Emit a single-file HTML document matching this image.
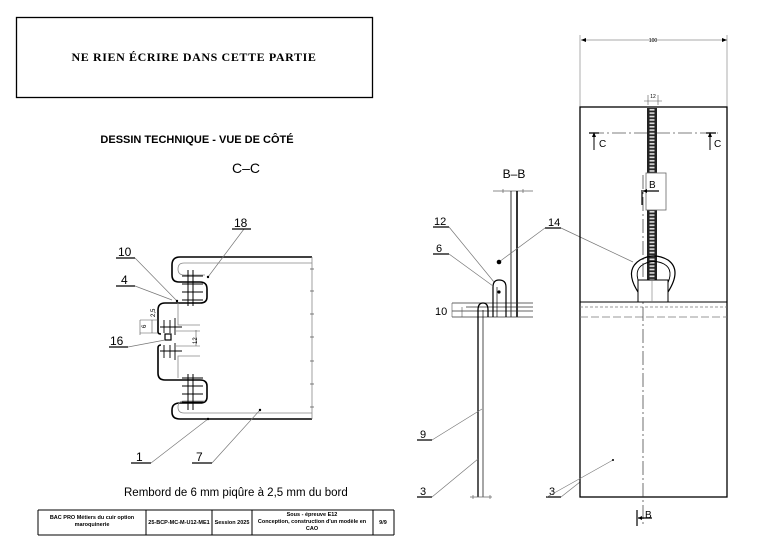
<!DOCTYPE html>
<html><head><meta charset="utf-8"><style>
html,body{margin:0;padding:0;background:#fff;}
svg{display:block;}
text{font-family:"Liberation Sans",sans-serif;fill:#000;}
</style></head><body>
<svg width="778" height="552" viewBox="0 0 778 552" xmlns="http://www.w3.org/2000/svg">
<defs>
<pattern id="zip" x="647" y="108" width="10" height="3.4" patternUnits="userSpaceOnUse">
<rect x="0" y="0" width="10" height="3.4" fill="#222"/>
<rect x="2.5" y="0.9" width="5" height="1.7" fill="#ddd"/>
</pattern>
</defs>
<rect x="16.5" y="17.5" width="356" height="80" fill="none" stroke="#000" stroke-width="1.3"/>
<text x="194" y="61" text-anchor="middle" style="font-family:'Liberation Serif',serif;font-weight:bold;font-size:12px;letter-spacing:0.6px">NE RIEN ÉCRIRE DANS CETTE PARTIE</text>
<text x="197" y="143" text-anchor="middle" font-weight="bold" font-size="11px">DESSIN TECHNIQUE - VUE DE CÔTÉ</text>
<text x="246" y="173" text-anchor="middle" font-size="14px">C–C</text>

<!-- left drawing -->
<g fill="none" stroke="#000">
<path d="M312,257 H180 Q172,257 172,265 V275 Q172,282 179,282 H200 Q207,282 207,289 V297 Q207,303 200,303 H165 Q158,303 158,310 V332 Q158,334 161,334" stroke-width="1.6"/>
<path d="M161,345 Q158,345 158,348 V373 Q158,380 165,380 H200 Q207,380 207,386 V397 Q207,403 200,403 H180 Q172,403 172,410 V412 Q172,419 180,419 H312" stroke-width="1.6"/>
<path d="M312,263 H184 Q178,263 178,269 Q178,275 184,275 H205" stroke="#888" stroke-width="0.8"/>
<path d="M312,413 H184 Q178,413 178,407 Q178,401 184,401 H205" stroke="#888" stroke-width="0.8"/>
<path d="M178,303 V325 H200 M178,378 V356 H200" stroke="#888" stroke-width="0.8"/>
<line x1="312" y1="257" x2="312" y2="419" stroke="#888" stroke-width="0.8"/>
<path d="M310,269h4M310,291h4M310,314h4M310,337h4M310,361h4M310,384h4M310,407h4" stroke="#555" stroke-width="0.8"/>
<path d="M188,270V306M193,270V306M182,276H203M182,284H203M182,292H203M182,300H203" stroke-width="1"/>
<path d="M188,374V410M193,374V410M182,378H203M182,386H203M182,394H203M182,402H203" stroke-width="1"/>
<path d="M164,320V333M170,320V333M164,345V358M170,345V358M160,327H182M160,351H182M175,318V335M175,343V360" stroke-width="0.9"/>
<rect x="165" y="334" width="6" height="6" stroke-width="1.2"/>
<path d="M176,331H200M176,346H200M196,330V346M140,320V335M152,320V333M140,320H158M140,333H158" stroke="#555" stroke-width="0.6"/>
<path d="M232,229H251M244,229L208,277M116,258H135M135,258L177,301M116,286H135M135,286L172,300M109,347H128M128,347L165,340M131,463H151M151,463L208,419M192,463H212M212,463L260,410" stroke="#777" stroke-width="0.7"/>
<path d="M116,258H135M116,286H135M109,347H128M131,463H151M192,463H212M232,229H251" stroke="#000" stroke-width="1.2"/>
</g>
<circle cx="208" cy="277" r="1.2"/><circle cx="177" cy="301" r="1.2"/><circle cx="208" cy="419" r="1.2"/><circle cx="260" cy="410" r="1.2"/>
<text x="234" y="227" font-size="12px">18</text>
<text x="118" y="256" font-size="12px">10</text>
<text x="121" y="284" font-size="12px">4</text>
<text x="110" y="345" font-size="12px">16</text>
<text x="136" y="461" font-size="12px">1</text>
<text x="196" y="461" font-size="12px">7</text>
<text x="146" y="328" font-size="6px" fill="#b65" transform="rotate(-90 146 328)">6</text>
<text x="155" y="317" font-size="6px" fill="#358" transform="rotate(-90 155 317)">2,5</text>
<text x="197" y="344" font-size="6px" transform="rotate(-90 197 344)">12</text>
<text x="124" y="496" font-size="11.5px">Rembord de 6 mm piqûre à 2,5 mm du bord</text>

<!-- title block -->
<g stroke="#000" stroke-width="1" fill="none">
<path d="M38,510H394M38,535H394M38,510V535M146,510V535M212,510V535M252,510V535M373,510V535M394,510V535"/>
</g>
<g font-size="5.5px" font-weight="bold" text-anchor="middle">
<text x="92" y="519">BAC PRO Métiers du cuir option</text>
<text x="92" y="526">maroquinerie</text>
<text x="179" y="524">25-BCP-MC-M-U12-ME1</text>
<text x="232" y="524">Session 2025</text>
<text x="312" y="516">Sous - épreuve E12</text>
<text x="312" y="523">Conception, construction d'un modèle en</text>
<text x="312" y="530">CAO</text>
<text x="383" y="524">9/9</text>
</g>

<!-- B-B view -->
<text x="514" y="178" text-anchor="middle" font-size="12px">B–B</text>
<g fill="none" stroke="#000">
<path d="M493,191H533M503,189V193M523,189V193" stroke="#666" stroke-width="0.7"/>
<line x1="511" y1="191" x2="511" y2="317" stroke-width="0.8"/>
<line x1="517" y1="191" x2="517" y2="317" stroke-width="1.6"/>
<path d="M452,303H533M466,307H533M452,311H533M452,317H533" stroke="#333" stroke-width="0.7"/>
<path d="M493,317V287 Q493,280 499,280 Q506,280 506,287 V317" stroke-width="1.2"/>
<line x1="497" y1="287" x2="497" y2="317" stroke-width="0.7"/>
<path d="M478,497V310 Q478,303 483,303 Q488,303 488,310 V317" stroke-width="1.3"/>
<line x1="483" y1="310" x2="483" y2="497" stroke-width="0.7"/>
<path d="M470,497H492M473,495V499M490,495V499" stroke="#666" stroke-width="0.7"/>
<path d="M452,303V317M462,307V317" stroke="#555" stroke-width="0.6"/>
<path d="M433,227H449M449,227L494,282M433,254H449M449,254L493,286M417,440H432M432,440L482,409M417,497H432M432,497L478,459M546,497H561M561,497L580,482M545,228H561" stroke="#777" stroke-width="0.7"/>
<path d="M433,227H449M433,254H449M417,440H432M417,497H432M546,497H561M545,228H561" stroke="#000" stroke-width="1.2"/>
<path d="M561,228L633,262M499,262L545,228" stroke="#777" stroke-width="0.7"/>
</g>
<circle cx="499" cy="262" r="2.3"/><circle cx="499" cy="292" r="1.6"/>
<text x="434" y="225" font-size="11px">12</text>
<text x="436" y="252" font-size="11px">6</text>
<text x="435" y="315" font-size="11px">10</text>
<text x="420" y="438" font-size="11px">9</text>
<text x="420" y="495" font-size="11px">3</text>
<text x="549" y="495" font-size="11px">3</text>
<text x="548" y="226" font-size="11px">14</text>

<!-- right view -->
<g fill="none" stroke="#000">
<path d="M580,35V107M727,35V107" stroke="#777" stroke-width="0.6"/>
<path d="M581,40H727" stroke="#555" stroke-width="0.6"/>
<rect x="580" y="107" width="147" height="390" stroke-width="1.3"/>
<line x1="580" y1="302" x2="727" y2="302" stroke-width="1.1"/>
<line x1="580" y1="307" x2="727" y2="307" stroke="#777" stroke-width="0.7" stroke-dasharray="3,2"/>
<line x1="580" y1="317" x2="727" y2="317" stroke="#777" stroke-width="0.7" stroke-dasharray="8,3"/>
<line x1="643" y1="175" x2="643" y2="527" stroke="#333" stroke-width="0.7" stroke-dasharray="14,3,2,3"/>
<line x1="590" y1="133" x2="718" y2="133" stroke="#555" stroke-width="0.7" stroke-dasharray="14,3,2,3"/>
<path d="M589,133H599M706,133H716" stroke-width="1.2"/>
<path d="M594,133V150M710,133V150" stroke-width="1"/>
</g>
<rect x="647" y="108" width="10" height="65" fill="url(#zip)"/>
<rect x="647" y="210" width="10" height="70" fill="url(#zip)"/>
<g fill="none" stroke="#000">
<rect x="646" y="173" width="20" height="37" stroke="#666" stroke-width="0.8" fill="#fff"/>
<path d="M642,190V205M643,191H659" stroke-width="1.2"/>
<path d="M638,292 Q624,270 640,260 Q654,252 668,260 Q682,270 668,292" stroke-width="1.2"/>
<path d="M641,287 Q632,270 644,264 Q654,259 664,264 Q675,270 666,287" stroke-width="0.9"/>
<rect x="638" y="280" width="30" height="22" stroke-width="1" fill="#fff"/>
<line x1="652" y1="280" x2="652" y2="302" stroke="#777" stroke-width="0.6"/>
<path d="M648,95V105M658,95V105M644,101H662" stroke="#555" stroke-width="0.6"/>
<path d="M637,510V526M638,518H652" stroke-width="1.2"/>
<path d="M547,497L613,460" stroke="#777" stroke-width="0.6"/>
</g>
<path d="M581,40l5,-2v4z M727,40l-5,-2v4z M594,132l-2,5h4z M710,132l-2,5h4z M643,191l4,-2v4z M638,518l4,-2v4z"/>
<circle cx="613" cy="460" r="1"/>
<text x="653" y="42" text-anchor="middle" font-size="5px" fill="#555">100</text>
<text x="653" y="98" text-anchor="middle" font-size="5px" fill="#555">12</text>
<text x="599" y="147" font-size="10px">C</text>
<text x="714" y="147" font-size="10px">C</text>
<text x="649" y="188" font-size="10px">B</text>
<text x="645" y="518" font-size="10px">B</text>
</svg>
</body></html>
